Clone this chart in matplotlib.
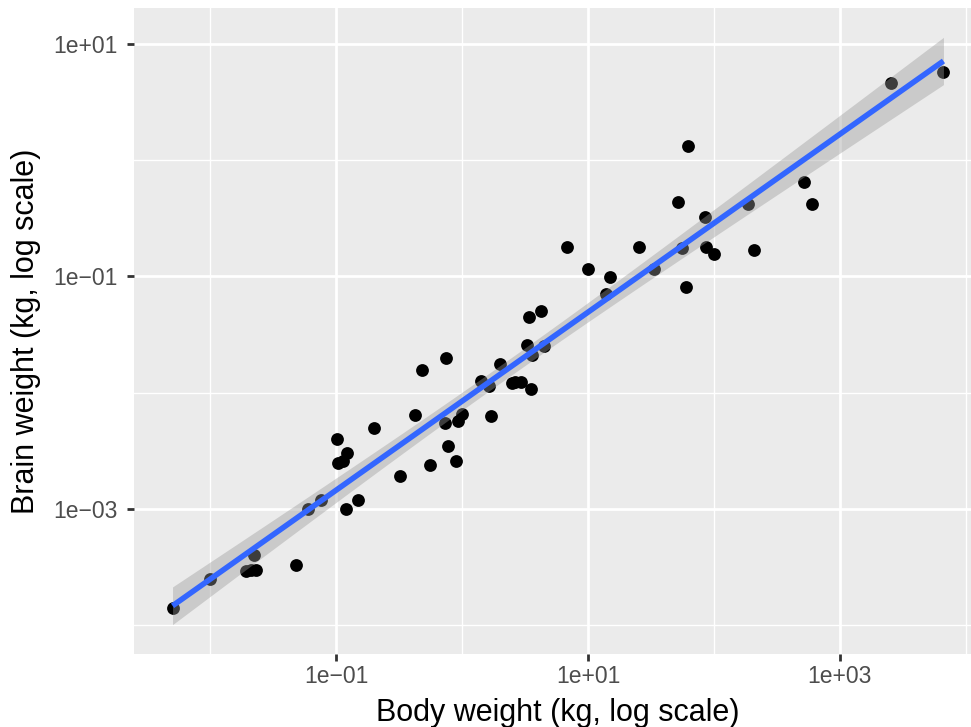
import numpy as np
import matplotlib
matplotlib.use("Agg")
import matplotlib.pyplot as plt
from matplotlib.ticker import FixedLocator, NullFormatter

# Mammals: body weight and brain weight (kg)
species = [
    "Owl monkey", "Greater short-tailed shrew", "Cow", "Dog", "Roe deer", "Goat",
    "Guinea pig", "Chinchilla", "Star-nosed mole", "African giant pouched rat",
    "Lesser short-tailed shrew", "Long-nosed armadillo", "Tree hyrax",
    "North American Opossum", "Asian elephant", "Big brown bat", "Horse", "Donkey",
    "European hedgehog", "Patas monkey", "Domestic cat", "Galago", "Gray seal",
    "Gray hyrax", "Human", "African elephant", "Macaque", "Golden hamster",
    "House mouse", "Little brown bat", "Slow loris", "Rabbit", "Sheep", "Chimpanzee",
    "Jaguar", "Baboon", "Desert hedgehog", "Deer mouse", "Phalanger",
    "Giant armadillo", "Rock hyrax", "Laboratory rat", "Squirrel monkey",
    "Eastern american mole", "Cotton rat", "Mole rat", "Arctic ground squirrel",
    "Thirteen-lined ground squirrel", "Musk shrew", "Pig", "Short-nosed echidna",
    "Eastern american chipmunk", "Brazilian tapir", "Tenrec", "Tree shrew", "Genet",
    "Arctic fox", "Red fox",
]
bodywt = [
    0.48, 0.019, 600, 14, 14.8, 33.5, 0.728, 0.42, 0.06, 1.0,
    0.005, 3.5, 2.95, 1.7, 2547, 0.023, 521, 187, 0.77, 10,
    3.3, 0.2, 85, 2.625, 62, 6654, 6.8, 0.12, 0.022, 0.01,
    1.4, 2.5, 55.5, 52.2, 100, 25.235, 0.55, 0.021, 1.62, 60,
    3.6, 0.32, 0.743, 0.075, 0.148, 0.122, 0.92, 0.101, 0.048, 86.25,
    4.5, 0.112, 207.501, 0.9, 0.104, 2.0, 3.38, 4.23,
]
brainwt = [
    0.0155, 0.00029, 0.423, 0.07, 0.0982, 0.115, 0.0055, 0.0064, 0.001, 0.0066,
    0.00014, 0.0108, 0.0123, 0.0063, 4.603, 0.0003, 0.655, 0.419, 0.0035, 0.115,
    0.0256, 0.005, 0.325, 0.01227, 1.32, 5.712, 0.179, 0.001, 0.0004, 0.00025,
    0.0125, 0.0121, 0.175, 0.44, 0.157, 0.18, 0.0024, 0.0003, 0.0114, 0.081,
    0.021, 0.0019, 0.02, 0.0012, 0.00118, 0.003, 0.0057, 0.004, 0.00033, 0.18,
    0.025, 0.0026, 0.169, 0.0026, 0.0025, 0.0175, 0.0445, 0.0504,
]

x_ticks = [1e-1, 1e1, 1e3]
x_tick_labels = ["1e\u221201", "1e+01", "1e+03"]
y_ticks = [1e-3, 1e-1, 1e1]
y_tick_labels = ["1e\u221203", "1e\u221201", "1e+01"]

# Linear fit in log-log space with a 95% confidence band
lx = np.log10(np.array(bodywt))
ly = np.log10(np.array(brainwt))
n = len(lx)
X = np.column_stack([np.ones(n), lx])
beta, *_ = np.linalg.lstsq(X, ly, rcond=None)
resid = ly - X @ beta
sigma2 = resid @ resid / (n - 2)
XtX_inv = np.linalg.inv(X.T @ X)
t_crit = 2.00324  # t(0.975, df = 56)
gx = np.linspace(lx.min(), lx.max(), 80)
G = np.column_stack([np.ones_like(gx), gx])
fit = G @ beta
se = np.sqrt(sigma2 * np.einsum("ij,jk,ik->i", G, XtX_inv, G))
lo = fit - t_crit * se
hi = fit + t_crit * se

# Scale limits: data plus band, widened by 5% on each side (log space)
xr = (lx.min(), lx.max())
yr = (min(ly.min(), lo.min()), max(ly.max(), hi.max()))
xpad = 0.05 * (xr[1] - xr[0])
ypad = 0.05 * (yr[1] - yr[0])

plt.rcParams["font.family"] = ["Liberation Sans", "DejaVu Sans"]

W, H = 971, 727
fig = plt.figure(figsize=(W / 100, H / 100), dpi=100)
left, right, top, bottom = 134, 982, 8, 654
ax = fig.add_axes([left / W, 1 - bottom / H, (right - left) / W, (bottom - top) / H])

ax.set_facecolor("#EBEBEB")
for s in ax.spines.values():
    s.set_visible(False)

ax.set_xscale("log")
ax.set_yscale("log")
ax.set_xlim(10 ** (xr[0] - xpad), 10 ** (xr[1] + xpad))
ax.set_ylim(10 ** (yr[0] - ypad), 10 ** (yr[1] + ypad))

ax.xaxis.set_major_locator(FixedLocator(x_ticks))
ax.yaxis.set_major_locator(FixedLocator(y_ticks))
ax.set_xticklabels(x_tick_labels)
ax.set_yticklabels(y_tick_labels)
ax.xaxis.set_minor_locator(FixedLocator([1e-2, 1e0, 1e2, 1e4]))
ax.yaxis.set_minor_locator(FixedLocator([1e-4, 1e-2, 1e0]))
ax.xaxis.set_minor_formatter(NullFormatter())
ax.yaxis.set_minor_formatter(NullFormatter())

ax.grid(which="major", color="white", linewidth=2.0, zorder=0)
ax.grid(which="minor", color="white", linewidth=1.0, zorder=0)
ax.set_axisbelow(True)

ax.tick_params(which="major", length=5, width=2.0, color="#333333",
               labelsize=16.5, labelcolor="#4D4D4D")
ax.tick_params(axis="x", which="major", pad=3)
ax.tick_params(axis="y", which="major", pad=6.5)
ax.tick_params(which="minor", length=0)

ax.scatter(bodywt, brainwt, s=85, color="black", linewidths=0, zorder=2)
ax.fill_between(10 ** gx, 10 ** lo, 10 ** hi, color="#999999", alpha=0.4,
                linewidth=0, zorder=3)
ax.plot(10 ** gx, 10 ** fit, color="#3366FF", linewidth=4.0, zorder=4,
        solid_capstyle="butt")

ax.set_xlabel("Body weight (kg, log scale)", fontsize=22, color="black", labelpad=7)
ax.set_ylabel("Brain weight (kg, log scale)", fontsize=22, color="black", labelpad=9)

fig.savefig("out.png", dpi=100)
